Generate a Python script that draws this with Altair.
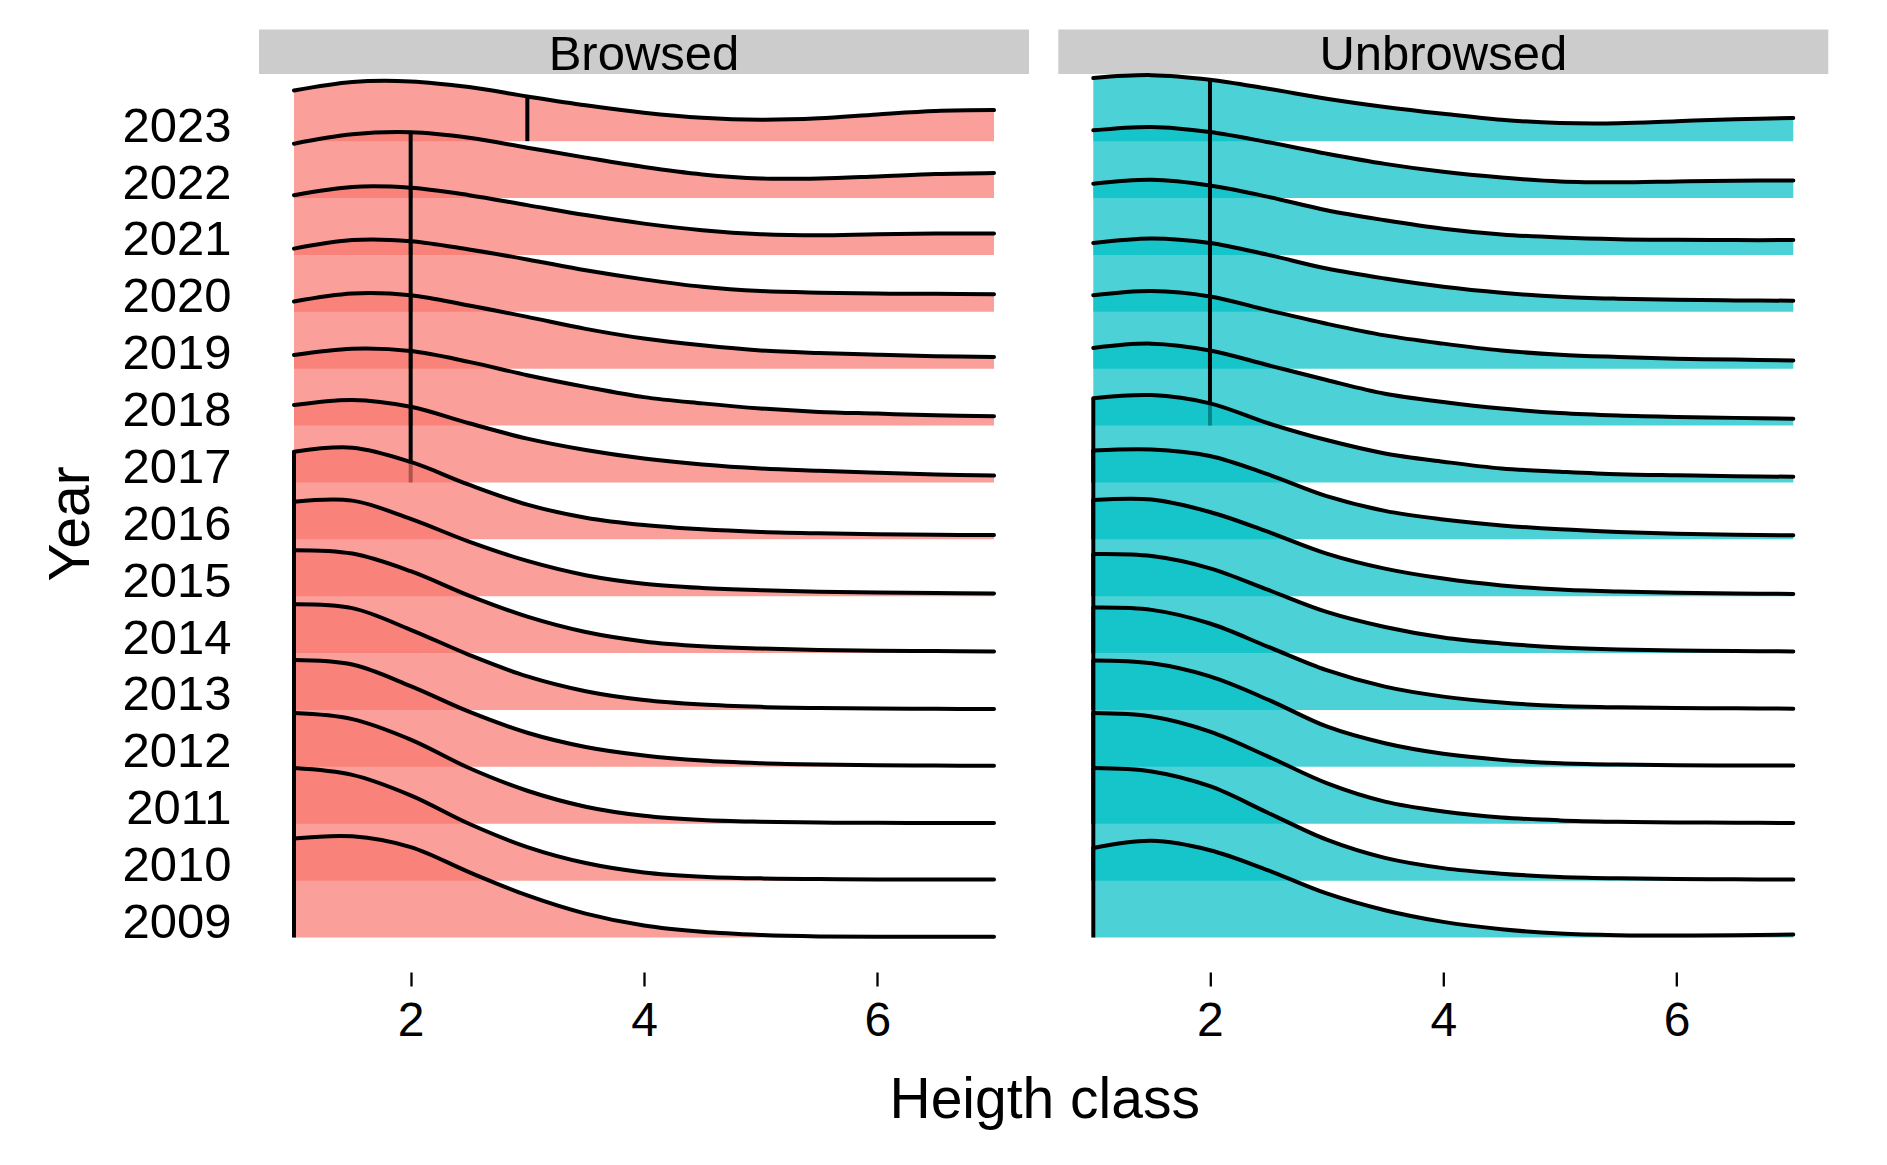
import altair as alt
import pandas as pd

# ---------------- data ----------------
years = list(range(2009, 2024))
height_class = [1, 1.5, 2, 2.5, 3, 3.5, 4, 4.5, 5, 5.5, 6, 6.5, 7]

# scaled ridge heights (in row units) for each year, sampled on height_class
browsed_density = [
    [1.74, 1.78, 1.59, 1.15, 0.74, 0.42, 0.21, 0.10, 0.045, 0.02, 0.012, 0.012, 0.012],    # 2009
    [1.98, 1.86, 1.50, 1.00, 0.59, 0.31, 0.145, 0.07, 0.04, 0.028, 0.022, 0.02, 0.018],    # 2010
    [1.945, 1.84, 1.48, 0.98, 0.58, 0.30, 0.14, 0.065, 0.035, 0.022, 0.016, 0.013, 0.012], # 2011
    [1.88, 1.80, 1.42, 0.97, 0.60, 0.35, 0.20, 0.11, 0.065, 0.042, 0.03, 0.022, 0.018],    # 2012
    [1.86, 1.79, 1.41, 0.97, 0.59, 0.33, 0.175, 0.095, 0.055, 0.035, 0.025, 0.02, 0.018],  # 2013
    [1.81, 1.75, 1.44, 1.01, 0.64, 0.37, 0.205, 0.12, 0.08, 0.055, 0.043, 0.035, 0.03],    # 2014
    [1.66, 1.68, 1.36, 0.96, 0.62, 0.37, 0.22, 0.145, 0.105, 0.08, 0.065, 0.055, 0.047],   # 2015
    [1.54, 1.61, 1.36, 0.96, 0.61, 0.38, 0.25, 0.175, 0.13, 0.105, 0.09, 0.08, 0.076],     # 2016
    [1.36, 1.45, 1.33, 1.04, 0.77, 0.57, 0.42, 0.315, 0.245, 0.205, 0.17, 0.14, 0.12],     # 2017
    [1.24, 1.35, 1.31, 1.12, 0.885, 0.68, 0.50, 0.39, 0.30, 0.24, 0.21, 0.18, 0.165],      # 2018
    [1.18, 1.32, 1.29, 1.11, 0.91, 0.70, 0.53, 0.41, 0.32, 0.275, 0.245, 0.22, 0.205],     # 2019
    [1.11, 1.26, 1.24, 1.095, 0.92, 0.73, 0.57, 0.44, 0.365, 0.335, 0.32, 0.315, 0.31],    # 2020
    [1.05, 1.195, 1.18, 1.05, 0.875, 0.70, 0.55, 0.435, 0.365, 0.345, 0.365, 0.375, 0.375],# 2021
    [0.955, 1.12, 1.155, 1.06, 0.885, 0.71, 0.545, 0.415, 0.345, 0.345, 0.38, 0.42, 0.44], # 2022
    [0.89, 1.04, 1.05, 0.95, 0.785, 0.63, 0.50, 0.41, 0.375, 0.40, 0.47, 0.53, 0.545],     # 2023
]
unbrowsed_density = [
    [1.575, 1.70, 1.535, 1.18, 0.775, 0.48, 0.275, 0.146, 0.07, 0.041, 0.035, 0.041, 0.053], # 2009
    [1.98, 1.92, 1.66, 1.19, 0.72, 0.40, 0.22, 0.123, 0.064, 0.041, 0.03, 0.023, 0.018],     # 2010
    [1.945, 1.885, 1.62, 1.18, 0.715, 0.39, 0.217, 0.11, 0.059, 0.035, 0.023, 0.018, 0.012], # 2011
    [1.87, 1.82, 1.59, 1.18, 0.71, 0.415, 0.23, 0.123, 0.064, 0.041, 0.03, 0.023, 0.023],    # 2012
    [1.80, 1.76, 1.52, 1.11, 0.70, 0.41, 0.235, 0.13, 0.07, 0.047, 0.035, 0.03, 0.023],      # 2013
    [1.74, 1.705, 1.49, 1.11, 0.725, 0.46, 0.275, 0.17, 0.10, 0.064, 0.047, 0.035, 0.03],    # 2014
    [1.69, 1.70, 1.48, 1.13, 0.75, 0.485, 0.31, 0.19, 0.117, 0.082, 0.059, 0.047, 0.041],    # 2015
    [1.56, 1.58, 1.465, 1.14, 0.76, 0.50, 0.35, 0.245, 0.175, 0.13, 0.10, 0.082, 0.07],      # 2016
    [1.48, 1.535, 1.39, 1.04, 0.745, 0.51, 0.365, 0.245, 0.19, 0.145, 0.125, 0.11, 0.10],    # 2017
    [1.365, 1.44, 1.32, 1.06, 0.80, 0.56, 0.415, 0.30, 0.22, 0.175, 0.15, 0.135, 0.12],      # 2018
    [1.29, 1.365, 1.27, 1.025, 0.79, 0.585, 0.44, 0.32, 0.245, 0.205, 0.175, 0.16, 0.145],   # 2019
    [1.21, 1.29, 1.21, 1.00, 0.76, 0.585, 0.44, 0.335, 0.265, 0.23, 0.21, 0.20, 0.195],      # 2020
    [1.25, 1.32, 1.22, 1.02, 0.785, 0.61, 0.46, 0.36, 0.305, 0.275, 0.265, 0.26, 0.26],      # 2021
    [1.19, 1.25, 1.16, 0.98, 0.78, 0.60, 0.46, 0.36, 0.29, 0.275, 0.29, 0.305, 0.31],        # 2022
    [1.11, 1.16, 1.08, 0.92, 0.745, 0.60, 0.48, 0.375, 0.32, 0.315, 0.35, 0.385, 0.405],     # 2023
]
browsed_median = [1, 1, 1, 1, 1, 1, 1, 1, 2, 2, 2, 2, 2, 2, 3]
unbrowsed_median = [1, 1, 1, 1, 1, 1, 1, 1, 1, 2, 2, 2, 2, 2, 2]

panels = ["Browsed", "Unbrowsed"]
panel_colors = ["#F8766D", "#00BFC4"]
x_ticks = [2, 4, 6]

# ---------------- layout constants ----------------
W, H = 770, 898
X_DOMAIN = [0.7, 7.3]
Y_DOMAIN = [2008.394, 2024.18]
FONT = "Liberation Sans"
LW = 4.0


def panel_chart(name, dens, med, color, first):
    rows = []
    for yr, hs in zip(years, dens):
        for x, h in zip(height_class, hs):
            rows.append({"year": yr, "x": x, "base": yr, "top": yr + h})
    df = pd.DataFrame(rows)
    qrows = []
    for yr, hs, m in zip(years, dens, med):
        qrows.append({"year": yr, "x": m, "base": yr, "top": yr + hs[height_class.index(m)]})
    qdf = pd.DataFrame(qrows)

    xscale = alt.Scale(domain=X_DOMAIN, nice=False, zero=False)
    yscale = alt.Scale(domain=Y_DOMAIN, nice=False, zero=False)

    xaxis_kw = dict(
        values=x_ticks, format="d", labelFontSize=48, labelFont=FONT, labelColor="black",
        tickSize=14, tickWidth=2.3, tickColor="black", labelPadding=11,
        domain=False, grid=False, labelFlush=False,
    )
    if first:
        xaxis = alt.Axis(
            title="Heigth class", titleFontSize=57, titleFont=FONT, titleFontWeight="normal",
            titleColor="black", titleX=785.2, titleY=145, titleAlign="center",
            titleBaseline="alphabetic", **xaxis_kw)
        yaxis = alt.Axis(
            values=years, format="d", labelFontSize=49, labelFont=FONT, labelColor="black",
            labelPadding=28, ticks=False, tickSize=0, domain=False, grid=False,
            labelBaseline="alphabetic", labelAlign="right", labelOverlap=False, labelFlush=False,
            title="Year", titleFontSize=57, titleFont=FONT, titleFontWeight="normal",
            titleColor="black", titleAngle=270, titleX=-170.3, titleY=449.4,
            titleAlign="center", titleBaseline="alphabetic")
    else:
        xaxis = alt.Axis(title=None, **xaxis_kw)
        yaxis = None

    X = alt.X("x:Q", scale=xscale, axis=xaxis)

    strip_df = pd.DataFrame({"panel": [name]})
    layers = [
        alt.Chart(strip_df).mark_rect(color="#CCCCCC").encode(
            x=alt.value(0), x2=alt.value(W), y=alt.value(-44.5), y2=alt.value(0)),
        alt.Chart(strip_df).mark_text(
            fontSize=49, font=FONT, baseline="alphabetic", align="center", color="black"
        ).encode(x=alt.value(W / 2), y=alt.value(-4.5), text="panel:N"),
    ]
    for yr in reversed(years):
        flt = alt.datum.year == yr
        area = alt.Chart(df).transform_filter(flt).mark_area(
            color=color, opacity=0.7, interpolate="catmull-rom"
        ).encode(x=X, y=alt.Y("top:Q", scale=yscale, axis=yaxis), y2="base:Q")
        line = alt.Chart(df).transform_filter(flt).mark_line(
            color="black", strokeWidth=LW, interpolate="catmull-rom", strokeCap="round"
        ).encode(x=X, y=alt.Y("top:Q", scale=yscale, axis=yaxis))
        rule = alt.Chart(qdf).transform_filter(flt).mark_rule(
            color="black", strokeWidth=LW
        ).encode(x=X, y=alt.Y("base:Q", scale=yscale, axis=yaxis), y2="top:Q")
        layers += [area, line, rule]
    return alt.layer(*layers).properties(width=W, height=H)


left = panel_chart(panels[0], browsed_density, browsed_median, panel_colors[0], True)
right = panel_chart(panels[1], unbrowsed_density, unbrowsed_median, panel_colors[1], False)

chart = alt.hconcat(left, right, spacing=29.3, bounds="flush").properties(
    padding={"left": 42, "top": 29, "right": 5, "bottom": 5},
    background="white",
).configure_view(stroke=None)

chart.save("out.html", embed_options={"renderer": "svg", "actions": False})
